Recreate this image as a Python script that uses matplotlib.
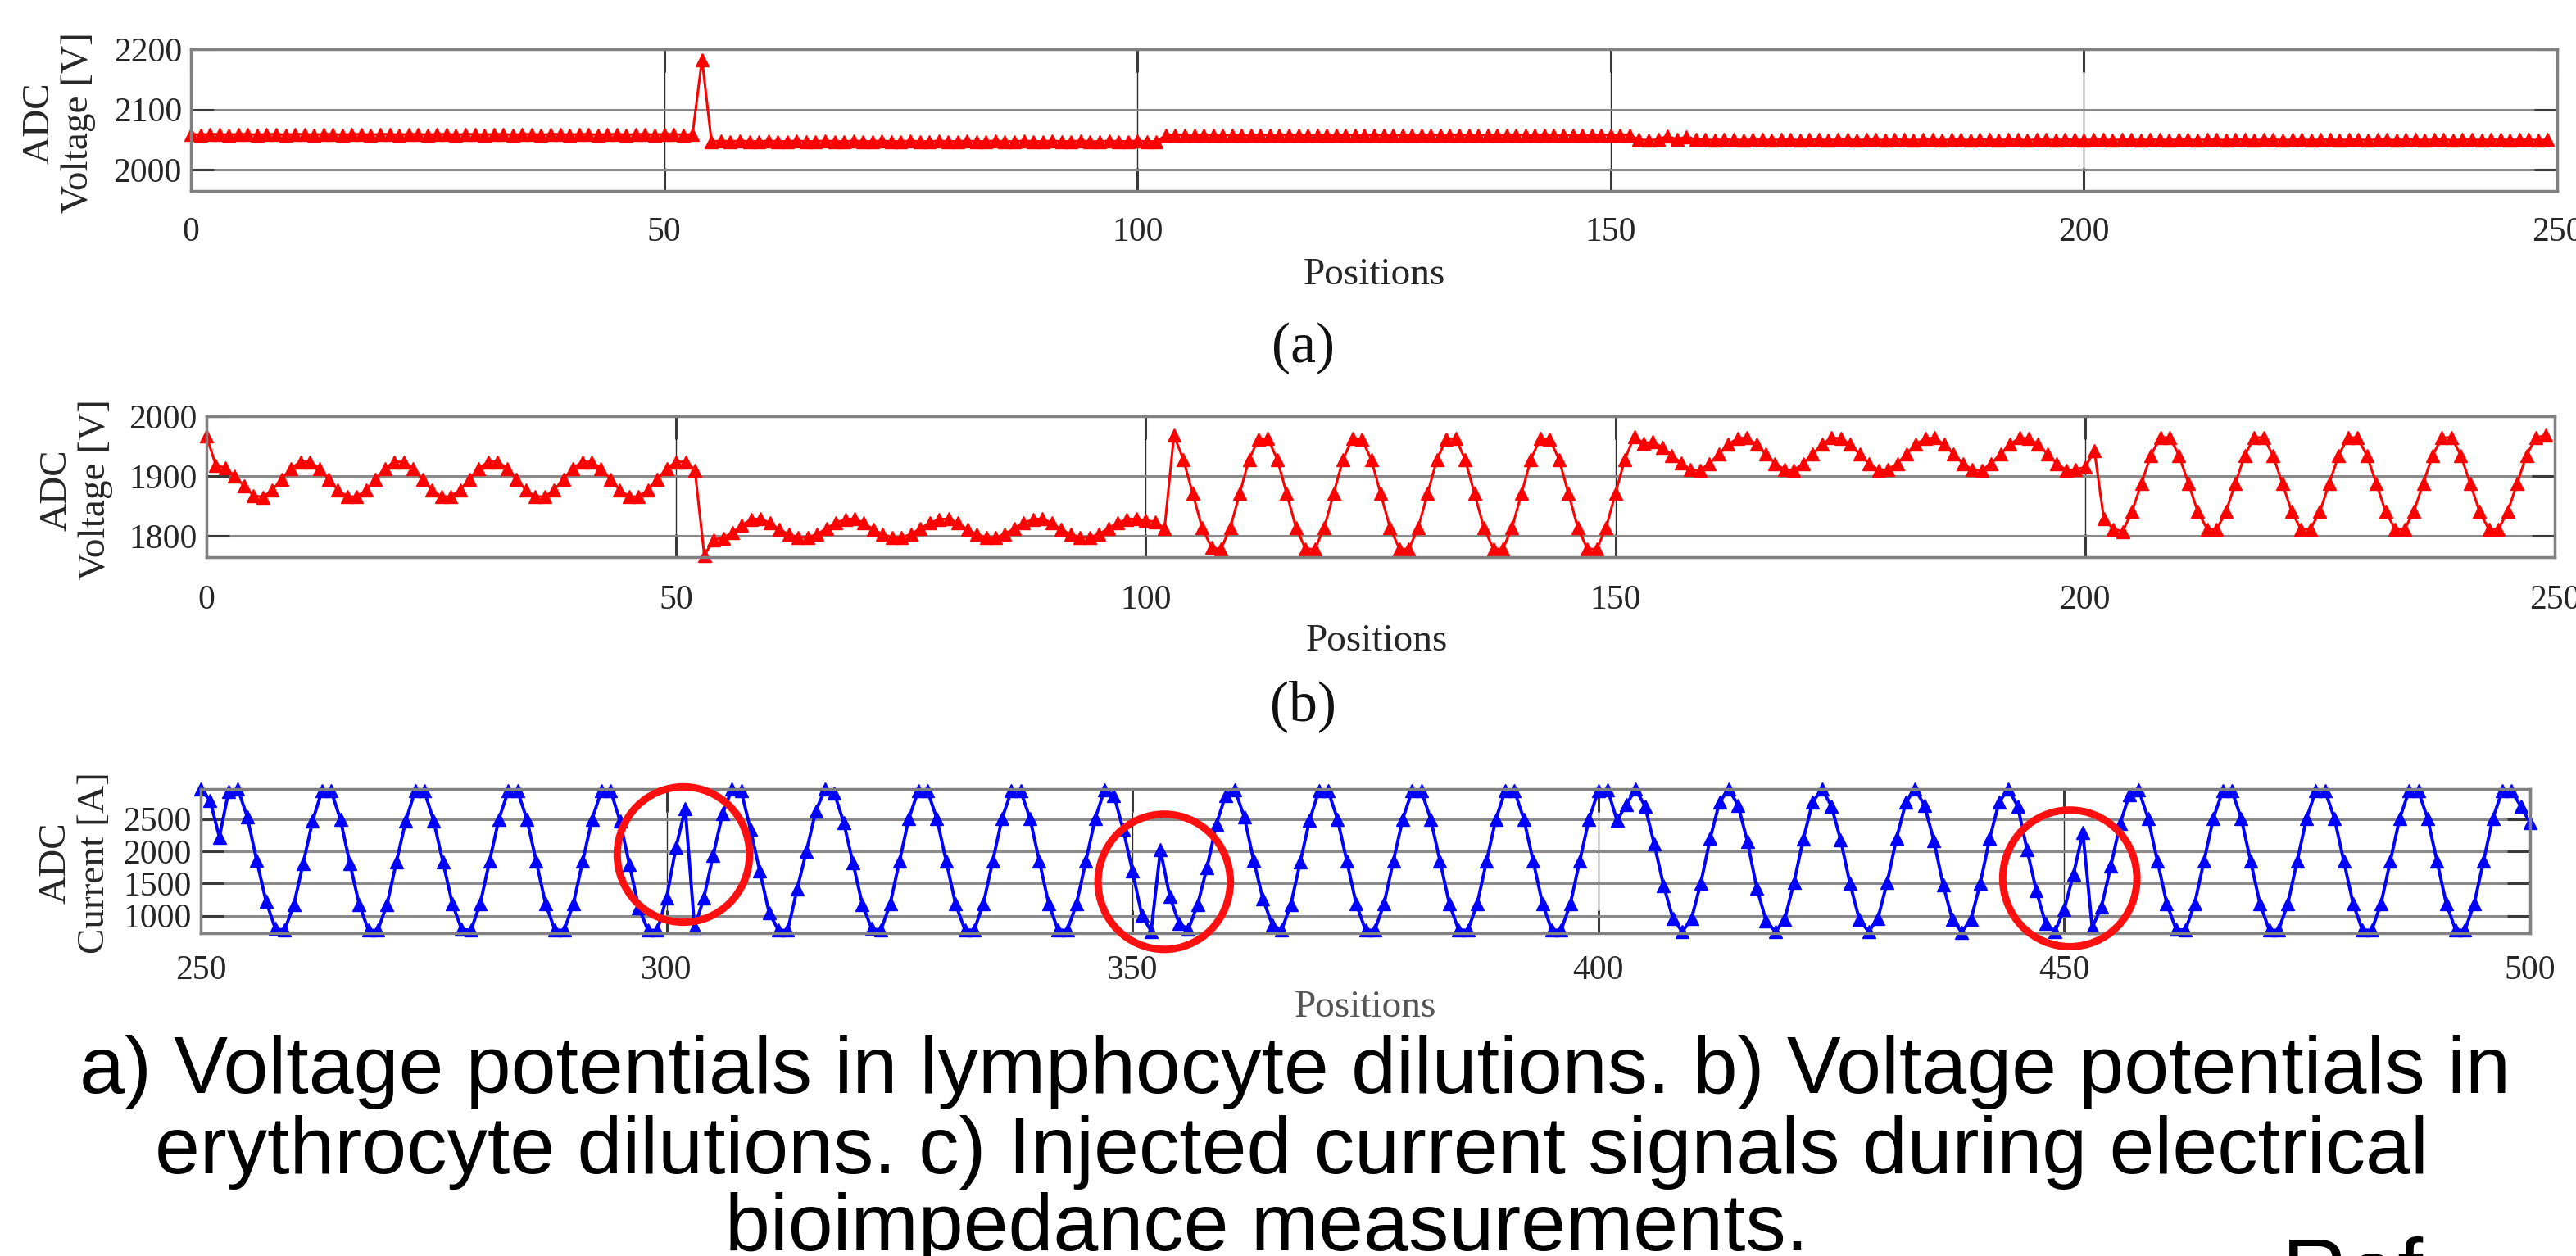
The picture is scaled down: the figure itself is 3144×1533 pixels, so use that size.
import matplotlib
matplotlib.use("Agg")
import matplotlib.pyplot as plt
from matplotlib.patches import Ellipse

# ---------------- data ----------------
pos_ab = list(range(0, 250))
pos_c = list(range(250, 501))

volt_a = [
    2059, 2058, 2059, 2059, 2058, 2059, 2059, 2058, 2059, 2059,
    2058, 2059, 2059, 2058, 2059, 2059, 2058, 2059, 2059, 2058,
    2059, 2059, 2058, 2059, 2059, 2058, 2059, 2059, 2058, 2059,
    2059, 2058, 2059, 2059, 2058, 2059, 2059, 2058, 2059, 2059,
    2058, 2059, 2059, 2058, 2059, 2059, 2058, 2059, 2059, 2058,
    2059, 2059, 2058, 2059, 2183, 2047, 2048, 2047, 2048, 2047,
    2047, 2048, 2047, 2047, 2048, 2047, 2047, 2048, 2047, 2047,
    2048, 2047, 2047, 2048, 2047, 2047, 2048, 2047, 2047, 2048,
    2047, 2047, 2048, 2047, 2047, 2048, 2047, 2047, 2048, 2047,
    2047, 2048, 2047, 2047, 2048, 2047, 2047, 2048, 2047, 2047,
    2048, 2047, 2047, 2057, 2058, 2057, 2057, 2058, 2057, 2057,
    2058, 2057, 2057, 2058, 2057, 2057, 2058, 2057, 2057, 2058,
    2057, 2057, 2058, 2057, 2057, 2058, 2057, 2057, 2058, 2057,
    2057, 2058, 2057, 2057, 2058, 2057, 2057, 2058, 2057, 2057,
    2058, 2057, 2057, 2058, 2057, 2057, 2058, 2057, 2057, 2058,
    2057, 2058, 2057, 2050, 2049, 2050, 2056, 2050, 2055, 2050,
    2050, 2049, 2050, 2050, 2049, 2050, 2050, 2049, 2050, 2050,
    2049, 2050, 2050, 2049, 2050, 2050, 2049, 2050, 2050, 2049,
    2050, 2050, 2049, 2050, 2050, 2049, 2050, 2050, 2049, 2050,
    2050, 2049, 2050, 2050, 2049, 2050, 2050, 2049, 2050, 2050,
    2049, 2050, 2050, 2049, 2050, 2050, 2049, 2050, 2050, 2049,
    2050, 2050, 2049, 2050, 2050, 2049, 2050, 2050, 2049, 2050,
    2050, 2049, 2050, 2050, 2049, 2050, 2050, 2049, 2050, 2050,
    2049, 2050, 2050, 2049, 2050, 2050, 2049, 2050, 2050, 2049,
    2050, 2050, 2049, 2050, 2050, 2049, 2050, 2050, 2049, 2050,
]

volt_b = [
    1967, 1918, 1914, 1900, 1884, 1868, 1865, 1877, 1895, 1913,
    1924, 1924, 1913, 1895, 1877, 1866, 1866, 1877, 1895, 1913,
    1924, 1924, 1913, 1895, 1877, 1866, 1866, 1877, 1895, 1913,
    1924, 1924, 1913, 1895, 1877, 1866, 1866, 1877, 1895, 1913,
    1924, 1924, 1913, 1895, 1877, 1866, 1866, 1877, 1895, 1913,
    1924, 1924, 1910, 1768, 1794, 1797, 1806, 1818, 1828, 1829,
    1822, 1811, 1803, 1798, 1798, 1803, 1813, 1822, 1828, 1829,
    1822, 1811, 1803, 1798, 1798, 1803, 1813, 1822, 1828, 1829,
    1822, 1811, 1803, 1798, 1798, 1803, 1813, 1822, 1828, 1829,
    1822, 1811, 1803, 1798, 1798, 1803, 1813, 1822, 1828, 1829,
    1826, 1824, 1813, 1968, 1928, 1871, 1814, 1781, 1778, 1814,
    1871, 1928, 1962, 1963, 1928, 1871, 1814, 1779, 1778, 1814,
    1871, 1928, 1963, 1962, 1928, 1871, 1814, 1779, 1778, 1814,
    1871, 1928, 1962, 1963, 1928, 1871, 1814, 1779, 1778, 1814,
    1871, 1928, 1963, 1962, 1928, 1871, 1814, 1779, 1778, 1814,
    1871, 1928, 1966, 1955, 1957, 1948, 1935, 1922, 1911, 1910,
    1921, 1937, 1953, 1963, 1964, 1953, 1937, 1921, 1911, 1910,
    1921, 1937, 1953, 1964, 1963, 1953, 1937, 1921, 1910, 1911,
    1921, 1937, 1953, 1963, 1964, 1953, 1937, 1921, 1911, 1910,
    1921, 1937, 1953, 1964, 1963, 1953, 1937, 1921, 1910, 1911,
    1915, 1942, 1829, 1812, 1808, 1841, 1888, 1935, 1964, 1965,
    1935, 1888, 1841, 1812, 1811, 1841, 1888, 1935, 1964, 1965,
    1935, 1888, 1841, 1811, 1812, 1841, 1888, 1935, 1965, 1964,
    1935, 1888, 1841, 1812, 1811, 1841, 1888, 1935, 1964, 1965,
    1935, 1888, 1841, 1811, 1812, 1841, 1888, 1935, 1964, 1968,
]

current_c = [
    2960, 2790, 2220, 2930, 2960, 2530, 1860, 1230, 800, 775,
    1180, 1815, 2470, 2935, 2935, 2490, 1815, 1180, 775, 775,
    1180, 1835, 2470, 2935, 2935, 2470, 1830, 1190, 790, 775,
    1190, 1850, 2500, 2935, 2935, 2500, 1850, 1190, 780, 775,
    1190, 1850, 2500, 2935, 2935, 2470, 1800, 1130, 775, 775,
    1280, 2060, 2660, 815, 1280, 1940, 2580, 2960, 2935, 2340,
    1690, 1050, 775, 775, 1410, 2000, 2620, 2960, 2900, 2450,
    1820, 1180, 800, 775, 1190, 1850, 2510, 2935, 2935, 2510,
    1850, 1190, 785, 775, 1190, 1850, 2510, 2935, 2935, 2510,
    1850, 1190, 780, 775, 1190, 1850, 2510, 2950, 2870, 2340,
    1690, 1010, 760, 2020, 1300, 880, 790, 1180, 1750, 2420,
    2870, 2950, 2530, 1860, 1260, 860, 775, 1180, 1830, 2480,
    2935, 2935, 2500, 1850, 1190, 780, 775, 1190, 1850, 2500,
    2935, 2935, 2500, 1850, 1190, 780, 775, 1190, 1850, 2500,
    2935, 2935, 2500, 1850, 1190, 780, 775, 1190, 1850, 2500,
    2940, 2950, 2480, 2720, 2966, 2700, 2110, 1470, 960, 750,
    960, 1510, 2200, 2760, 2966, 2710, 2150, 1430, 925, 750,
    945, 1520, 2195, 2765, 2966, 2703, 2180, 1500, 950, 750,
    960, 1520, 2200, 2760, 2966, 2710, 2170, 1480, 940, 745,
    950, 1510, 2200, 2760, 2966, 2700, 2030, 1390, 880, 754,
    1100, 1650, 2290, 820, 1140, 1770, 2430, 2880, 2950, 2510,
    1850, 1190, 790, 775, 1190, 1850, 2510, 2935, 2935, 2510,
    1850, 1190, 780, 775, 1190, 1850, 2510, 2935, 2935, 2510,
    1850, 1190, 780, 775, 1190, 1850, 2510, 2935, 2935, 2510,
    1850, 1190, 780, 775, 1190, 1850, 2510, 2935, 2935, 2700,
    2440,
]

# highlighted anomalies in panel (c): centre x, centre y, width, height
circle_x = [301.8, 353.4, 450.6]
circle_y = [1950, 1527, 1580]
circle_w = [14.2, 14.2, 14.4]
circle_h = [2100, 2097, 2119]

xticks_ab = [0, 50, 100, 150, 200, 250]
xticks_c = [250, 300, 350, 400, 450, 500]
yticks_a = [2000, 2100, 2200]
yticks_b = [1800, 1900, 2000]
yticks_c = [1000, 1500, 2000, 2500]

caption_lines = [
    "a) Voltage potentials in lymphocyte dilutions. b) Voltage potentials in",
    "erythrocyte dilutions. c) Injected current signals during electrical",
    "bioimpedance measurements.",
]

# ---------------- figure ----------------
W, H = 3144, 1533
fig = plt.figure(figsize=(W / 100, H / 100), dpi=100)
SERIF = ["Liberation Serif", "DejaVu Serif"]
TICK_COLOR = "#262626"


def rect(left, right, top, bottom):
    return [left / W, 1 - bottom / H, (right - left) / W, (bottom - top) / H]


def style(ax, xticks, yticks, xlim, ylim, xpad):
    ax.set_xlim(*xlim)
    ax.set_ylim(*ylim)
    ax.set_xticks(xticks)
    ax.set_yticks(yticks)
    ax.set_axisbelow(True)
    ax.yaxis.grid(True, color="#8a8a8a", lw=2.2)
    ax.xaxis.grid(True, color="#2e2e2e", lw=1.0)
    for sp in ax.spines.values():
        sp.set_color("#808080")
        sp.set_linewidth(2.5)
    ax.tick_params(axis="both", which="both", direction="in", top=True, right=True,
                   length=20, width=2.2, color="#3a3a3a", labelcolor=TICK_COLOR,
                   labelsize=30)
    ax.tick_params(axis="x", pad=xpad)
    ax.tick_params(axis="y", pad=8)
    for lab in ax.get_xticklabels() + ax.get_yticklabels():
        lab.set_fontfamily(SERIF)


ax_a = fig.add_axes(rect(233, 3121, 60, 233))
ax_b = fig.add_axes(rect(252, 3118, 508, 680))
ax_c = fig.add_axes(rect(245, 3088, 963, 1139))

RED = "#ff0000"
BLUE = "#0000ff"

ax_a.plot(pos_ab, volt_a, color=RED, lw=2.2, marker="^", ms=11,
          markerfacecolor=RED, markeredgecolor=RED, clip_on=False)
ax_b.plot(pos_ab, volt_b, color=RED, lw=2.2, marker="^", ms=12,
          markerfacecolor=RED, markeredgecolor=RED, clip_on=False)
ax_c.plot(pos_c, current_c, color=BLUE, lw=2.8, marker="^", ms=11,
          markerfacecolor=BLUE, markeredgecolor=BLUE, clip_on=False)

style(ax_a, xticks_ab, yticks_a, (0, 250), (1965, 2200), 23)
style(ax_b, xticks_ab, yticks_b, (0, 250), (1765, 2000), 24)
style(ax_c, xticks_c, yticks_c, (250, 500), (730, 2966), 19)

for cx, cy, cw, ch in zip(circle_x, circle_y, circle_w, circle_h):
    e = Ellipse((cx, cy), cw, ch, fill=False, edgecolor="#ff1010", lw=6.5,
                clip_on=False, zorder=5)
    ax_c.add_patch(e)


def ftext(x, y, s, **kw):
    return fig.text(x / W, 1 - y / H, s, **kw)


# y labels
YL = dict(rotation=90, ha="center", va="center", multialignment="center",
          fontsize=34, family=SERIF, color=TICK_COLOR, linespacing=1.15)
ftext(72, 150, "ADC\nVoltage [V]", **YL)
ftext(93, 598, "ADC\nVoltage [V]", **YL)
ftext(92, 1053, "ADC\nCurrent [A]", **YL)

# x labels
ftext(1677, 336, "Positions", ha="center", va="center", fontsize=34, family=SERIF, color=TICK_COLOR)
ftext(1680, 783, "Positions", ha="center", va="center", fontsize=34, family=SERIF, color=TICK_COLOR)
ftext(1666, 1230, "Positions", ha="center", va="center", fontsize=34, family=SERIF, color="#555555")

# panel tags
ftext(1590, 425, "(a)", ha="center", va="center", fontsize=50, family=SERIF, color="#111111")
ftext(1590, 862, "(b)", ha="center", va="center", fontsize=50, family=SERIF, color="#111111")

# caption
CAP = ["Liberation Sans", "DejaVu Sans"]
ftext(1580, 1334, caption_lines[0], ha="center", va="baseline", fontsize=71, family=CAP, color="black")
ftext(1576, 1432, caption_lines[1], ha="center", va="baseline", fontsize=71, family=CAP, color="black")
ftext(1546, 1526, caption_lines[2], ha="center", va="baseline", fontsize=71, family=CAP, color="black")

# partially visible text at bottom-right edge
ftext(2785, 1509, "Ref", ha="left", va="top", fontsize=80, family=CAP, color="black")

fig.savefig("out.png", dpi=100)
